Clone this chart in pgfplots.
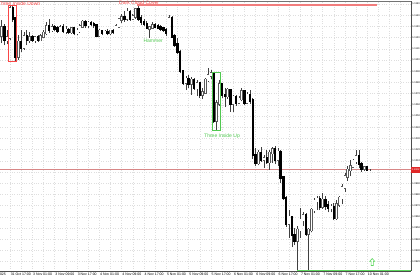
\documentclass[border=0pt]{standalone}
\usepackage{fontspec}
\setmainfont{Liberation Sans}
\usepackage{pgfplots}
\usepackage{pgfplotstable}
\pgfplotsset{compat=1.18}
\definecolor{dccred}{RGB}{242,125,125}
\definecolor{patred}{RGB}{250,70,70}
\definecolor{patgreen}{RGB}{80,200,80}
\definecolor{linegreen}{RGB}{95,215,95}
\definecolor{bidline}{RGB}{215,135,135}
\definecolor{pricered}{RGB}{225,40,40}
\pgfdeclareplotmark{hollowup}{%
  \pgfpathmoveto{\pgfpoint{0pt}{3.5pt}}%
  \pgfpathlineto{\pgfpoint{2.6pt}{0.6pt}}%
  \pgfpathlineto{\pgfpoint{1.1pt}{0.6pt}}%
  \pgfpathlineto{\pgfpoint{1.1pt}{-3.5pt}}%
  \pgfpathlineto{\pgfpoint{-1.1pt}{-3.5pt}}%
  \pgfpathlineto{\pgfpoint{-1.1pt}{0.6pt}}%
  \pgfpathlineto{\pgfpoint{-2.6pt}{0.6pt}}%
  \pgfpathclose
  \pgfusepathqfillstroke}

\pgfplotstableread{
i o h l c
0 1.1122 1.1136 1.1115 1.1129
1 1.1129 1.1132 1.1113 1.1118
2 1.1118 1.1127 1.1114 1.1120
3 1.1120 1.1149 1.1118 1.1146
4 1.1146 1.1148 1.1134 1.1137
5 1.1137 1.1138 1.1099 1.1103
6 1.1103 1.1122 1.1100 1.1116
7 1.1116 1.1127 1.1107 1.1111
8 1.1111 1.1125 1.1109 1.1121
9 1.1121 1.1127 1.1113 1.1118
10 1.1118 1.1125 1.1115 1.1120
11 1.1120 1.1122 1.1116 1.1118
12 1.1118 1.1121 1.1115 1.1120
13 1.1120 1.1122 1.1116 1.1118
14 1.1118 1.1123 1.1117 1.1121
15 1.1121 1.1127 1.1120 1.1124
16 1.1124 1.1134 1.1122 1.1130
17 1.1130 1.1137 1.1124 1.1127
18 1.1127 1.1132 1.1125 1.1129
19 1.1129 1.1131 1.1126 1.1128
20 1.1128 1.1130 1.1124 1.1126
21 1.1126 1.1131 1.1125 1.1129
22 1.1129 1.1132 1.1124 1.1126
23 1.1126 1.1130 1.1123 1.1127
24 1.1127 1.1129 1.1123 1.1125
25 1.1125 1.1129 1.1123 1.1128
26 1.1128 1.1129 1.1122 1.1124
27 1.1124 1.1129 1.1122 1.1126
28 1.1126 1.1132 1.1124 1.1130
29 1.1130 1.1136 1.1129 1.1134
30 1.1134 1.1136 1.1129 1.1131
31 1.1131 1.1135 1.1129 1.1133
32 1.1133 1.1135 1.1130 1.1132
33 1.1132 1.1134 1.1129 1.1131
34 1.1131 1.1132 1.1121 1.1122
35 1.1122 1.1128 1.1121 1.1126
36 1.1126 1.1127 1.1122 1.1124
37 1.1124 1.1127 1.1123 1.1125
38 1.1125 1.1128 1.1122 1.1124
39 1.1124 1.1127 1.1122 1.1126
40 1.1126 1.1128 1.1123 1.1125
41 1.1125 1.1132 1.1124 1.1130
42 1.1130 1.1137 1.1129 1.1136
43 1.1136 1.1141 1.1133 1.1138
44 1.1138 1.1144 1.1134 1.1137
45 1.1137 1.1146 1.1135 1.1143
46 1.1143 1.1145 1.1135 1.1137
47 1.1137 1.1141 1.1136 1.1139
48 1.1139 1.1146 1.1137 1.1145
49 1.1145 1.1149 1.1135 1.1137
50 1.1137 1.1140 1.1131 1.1134
51 1.1134 1.1137 1.1130 1.1132
52 1.1132 1.1135 1.1128 1.1129
53 1.1128 1.1130 1.1120 1.1129
54 1.1129 1.1134 1.1128 1.1131
55 1.1131 1.1133 1.1129 1.1130
56 1.1130 1.1132 1.1128 1.1129
57 1.1129 1.1131 1.1126 1.1128
58 1.1128 1.1129 1.1125 1.1127
59 1.1127 1.1129 1.1121 1.1124
60 1.1124 1.1140 1.1123 1.1137
61 1.1137 1.1139 1.1120 1.1121
62 1.1121 1.1123 1.1112 1.1114
63 1.1114 1.1120 1.1105 1.1107
64 1.1107 1.1109 1.1088 1.1090
65 1.1090 1.1091 1.1078 1.1080
66 1.1080 1.1086 1.1073 1.1083
67 1.1083 1.1087 1.1075 1.1079
68 1.1079 1.1085 1.1069 1.1082
69 1.1082 1.1084 1.1073 1.1075
70 1.1075 1.1082 1.1068 1.1079
71 1.1079 1.1080 1.1066 1.1069
72 1.1069 1.1075 1.1065 1.1071
73 1.1071 1.1084 1.1070 1.1082
74 1.1082 1.1093 1.1080 1.1086
75 1.1086 1.1091 1.1083 1.1088
76 1.1088 1.1089 1.1044 1.1046
77 1.1046 1.1064 1.1037 1.1061
78 1.1061 1.1082 1.1059 1.1078
79 1.1078 1.1079 1.1066 1.1069
80 1.1069 1.1075 1.1058 1.1068
81 1.1068 1.1075 1.1065 1.1073
82 1.1073 1.1074 1.1054 1.1061
83 1.1061 1.1069 1.1054 1.1067
84 1.1067 1.1069 1.1059 1.1062
85 1.1062 1.1068 1.1061 1.1065
86 1.1065 1.1075 1.1063 1.1072
87 1.1072 1.1073 1.1060 1.1062
88 1.1062 1.1071 1.1061 1.1069
89 1.1069 1.1073 1.1061 1.1064
90 1.1064 1.1066 1.1012 1.1015
91 1.1015 1.1021 1.1005 1.1008
92 1.1008 1.1020 1.1006 1.1017
93 1.1017 1.1022 1.1009 1.1011
94 1.1011 1.1015 1.1004 1.1012
95 1.1012 1.1020 1.1007 1.1009
96 1.1009 1.1020 1.1002 1.1017
97 1.1017 1.1022 1.1008 1.1020
98 1.1020 1.1023 1.1007 1.1011
99 1.1011 1.1021 1.1005 1.1018
100 1.1018 1.1020 1.0990 1.0995
101 1.0995 1.0996 1.0975 1.0977
102 1.0977 1.0979 1.0951 1.0954
103 1.0954 1.0966 1.0941 1.0960
104 1.0960 1.0961 1.0933 1.0944
105 1.0944 1.0950 1.0935 1.0939
106 1.0939 1.0952 1.0911 1.0948
107 1.0948 1.0968 1.0941 1.0957
108 1.0957 1.0964 1.0952 1.0961
109 1.0961 1.0963 1.0943 1.0945
110 1.0945 1.0950 1.0911 1.0948
111 1.0948 1.0968 1.0946 1.0966
112 1.0966 1.0977 1.0963 1.0974
113 1.0974 1.0979 1.0966 1.0976
114 1.0976 1.0979 1.0966 1.0969
115 1.0969 1.0981 1.0967 1.0975
116 1.0975 1.0979 1.0966 1.0970
117 1.0970 1.0974 1.0964 1.0968
118 1.0968 1.0971 1.0964 1.0969
119 1.0969 1.0972 1.0957 1.0959
120 1.0959 1.0975 1.0957 1.0971
121 1.0971 1.0979 1.0969 1.0977
122 1.0977 1.0989 1.0971 1.0986
123 1.0986 1.0999 1.0982 1.0996
124 1.0996 1.1005 1.0992 1.1002
125 1.1002 1.1011 1.0996 1.1005
126 1.1005 1.1012 1.1004 1.1010
127 1.1010 1.1020 1.1007 1.1014
128 1.1014 1.1020 1.1004 1.1007
129 1.1007 1.1009 1.1000 1.1003
130 1.1003 1.1005 1.1001 1.1004
131 1.1004 1.1004 1.1001 1.1002
132 1.1002 1.1003 1.1001 1.1002
}\candles

\begin{document}
\begin{tikzpicture}
\begin{axis}[
  at={(0pt,0pt)}, anchor=south west,
  scale only axis, width=411pt, height=270pt,
  xmin=-0.584, xmax=146.7, ymin=1.091161, ymax=1.115268,
  axis x line*=bottom, axis y line*=right,
  axis line style={-, black!70, line width=0.5pt},
  clip mode=individual,
  xtick={3,11,...,139},
  xticklabels={31 Oct 17:00, 3 Nov 01:00, 3 Nov 09:00, 3 Nov 17:00, 4 Nov 01:00, 4 Nov 09:00, 4 Nov 17:00, 5 Nov 01:00, 5 Nov 09:00, 5 Nov 17:00, 6 Nov 01:00, 6 Nov 09:00, 6 Nov 17:00, 7 Nov 01:00, 7 Nov 09:00, 7 Nov 17:00, 10 Nov 01:00, {}},
  minor xtick={7,15,...,143},
  ytick={1.0920,1.0930,1.0940,1.0950,1.0960,1.0970,1.0980,1.0990,1.1000,1.1010,1.1020,1.1030,1.1040,1.1050,1.1060,1.1070,1.1080,1.1090,1.1100,1.1110,1.1120,1.1130,1.1140,1.1150},
  yticklabels={1.0920,1.0930,1.0940,1.0950,1.0960,1.0970,1.0980,1.0990,{},1.1010,1.1020,1.1030,1.1040,1.1050,1.1060,1.1070,1.1080,1.1090,1.1100,1.1110,1.1120,1.1130,1.1140,1.1150},
  xmajorgrids, xminorgrids, ymajorgrids,
  major grid style={black!13, dotted, line width=0.4pt},
  minor grid style={black!13, dotted, line width=0.4pt},
  tick align=outside, major tick length=1.4pt, minor tick length=0pt,
  tick style={black!70, line width=0.4pt},
  xticklabel style={font=\fontsize{3.5}{4}\selectfont, anchor=north west, inner sep=0pt, xshift=0.6pt, yshift=-0.3pt},
  yticklabel style={font=\fontsize{2.5}{3}\selectfont, anchor=west, inner sep=0pt, xshift=-0.3pt},
]
% current price line
\addplot[bidline, line width=0.6pt, mark=none] coordinates {(-0.584,1.1002) (146.7,1.1002)};
% wicks
\addplot[black!75, line width=0.6pt, mark=none, quiver={u=0, v=\thisrow{h}-\thisrow{l}}] table[x=i, y=l] {\candles};
% bull bodies: grey outline, white fill
\addplot[black!65, line width=2.4pt, line cap=rect, mark=none, quiver={u=0, v=\thisrow{c}-\thisrow{o}}, restrict expr to domain={\thisrow{c}-\thisrow{o}}{-0.00001:1}] table[x=i, y=o] {\candles};
\addplot[white, line width=1.5pt, line cap=rect, mark=none, quiver={u=0, v=\thisrow{c}-\thisrow{o}}, restrict expr to domain={\thisrow{c}-\thisrow{o}}{-0.00001:1}] table[x=i, y=o] {\candles};
% bear bodies: black
\addplot[black, line width=2.4pt, line cap=rect, mark=none, quiver={u=0, v=\thisrow{c}-\thisrow{o}}, restrict expr to domain={\thisrow{c}-\thisrow{o}}{-1:-0.00002}] table[x=i, y=o] {\candles};
% pattern objects
\addplot[dccred, line width=1.8pt, mark=none] coordinates {(48.6,1.11494) (134.4,1.11494)};
\addplot[linegreen, line width=1.8pt, mark=none] coordinates {(106,1.0912) (146.7,1.0912)};
\addplot[patred, line width=0.6pt, mark=none] coordinates {(2.55,1.1149) (5.3,1.1149) (5.3,1.1099) (2.55,1.1099) (2.55,1.1149)};
\addplot[patgreen, line width=0.6pt, mark=none] coordinates {(75.6,1.1089) (78.4,1.1089) (78.4,1.1037) (75.6,1.1037) (75.6,1.1089)};
\addplot[linegreen, only marks, mark=hollowup, mark options={fill=white, line width=0.6pt}] coordinates {(132.8,1.09196)};
% top frame line
\draw[black!55, line width=0.5pt] (rel axis cs:0,1) -- (rel axis cs:1,1);
% labels
\node[anchor=base west, text=patred, font=\fontsize{5}{6}\selectfont, inner sep=0pt] at (axis cs:-1.3,1.11491) {Three Inside Down};
\node[anchor=base west, text=patred, font=\fontsize{5}{6}\selectfont, inner sep=0pt] at (axis cs:42.07,1.11497) {Dark Cloud Cover};
\node[anchor=base west, text=patgreen, font=\fontsize{5}{6}\selectfont, inner sep=0pt] at (axis cs:50.78,1.11154) {Hammer};
\node[anchor=base west, text=patgreen, font=\fontsize{5}{6}\selectfont, inner sep=0pt] at (axis cs:72.53,1.10312) {Three Inside Up};
\node[anchor=west, fill=pricered, text=white, font=\fontsize{2.5}{3}\selectfont, inner sep=0.3pt, minimum height=5.5pt, minimum width=9pt] at (axis cs:146.7,1.1002) {1.1002};
\node[anchor=north east, font=\fontsize{3.5}{4}\selectfont, inner sep=0pt, yshift=-2.3pt] at (axis cs:1.6,1.091161) {31 Oct 2025};
\end{axis}
\pgfresetboundingbox
\useasboundingbox (0pt,-9pt) rectangle (420pt,271pt);
\end{tikzpicture}
\end{document}
